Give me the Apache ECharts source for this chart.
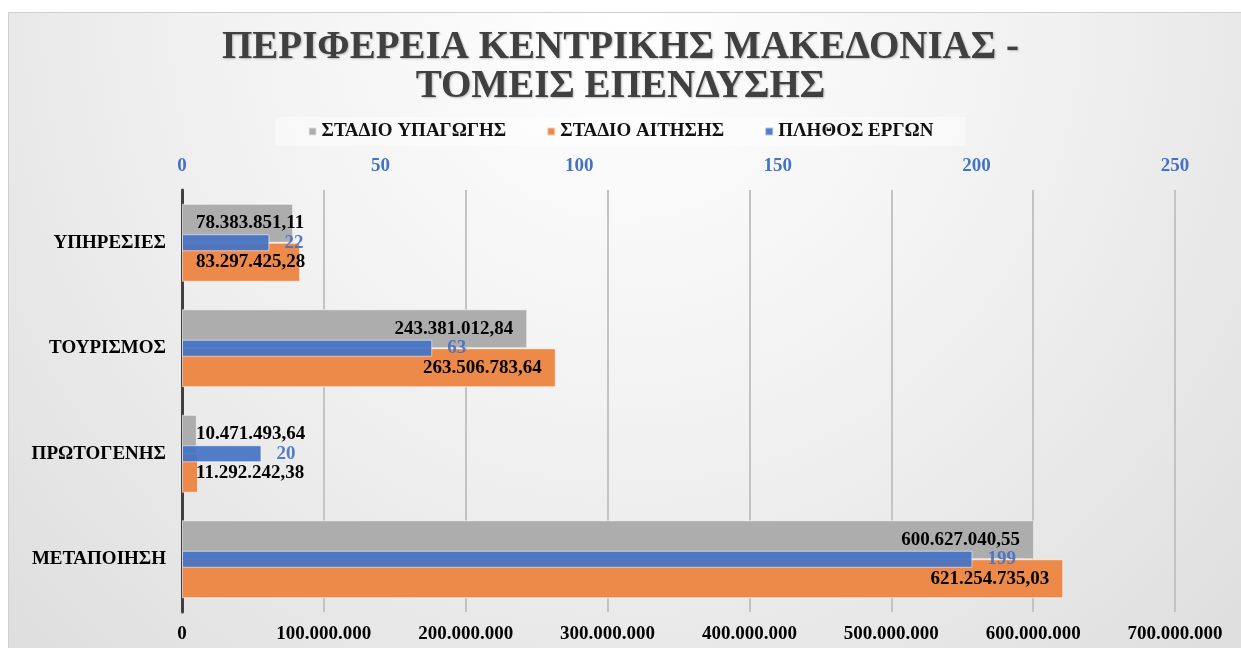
<!DOCTYPE html>
<html>
<head>
<meta charset="utf-8">
<script src="https://cdn.jsdelivr.net/npm/echarts@6/dist/echarts.min.js"></script>
<style>
  html, body { margin: 0; padding: 0; background: #fff; }
  #frame {
    position: absolute; left: 8px; top: 12px; width: 1233px; height: 636px;
    border-top: 1px solid #cfcfcf; border-left: 1px solid #cfcfcf;
    background: radial-gradient(ellipse at 50% 0%, #ffffff 0%, #f2f2f2 45%, #dedede 100%);
  }
  #main { position: absolute; left: 0; top: 0; width: 1241px; height: 648px; }
</style>
</head>
<body>
<div id="frame"></div>
<div id="main"></div>
<script>
const categories = ['ΜΕΤΑΠΟΙΗΣΗ', 'ΠΡΩΤΟΓΕΝΗΣ', 'ΤΟΥΡΙΣΜΟΣ', 'ΥΠΗΡΕΣΙΕΣ']
const stadioYpagogis = [600627040.55, 10471493.64, 243381012.84, 78383851.11]
const stadioAitisis = [621254735.03, 11292242.38, 263506783.64, 83297425.28]
const plithosErgon = [199, 20, 63, 22]

const serif = "'Liberation Serif', 'DejaVu Serif', serif"

// ελληνική μορφή αριθμών: 1.234.567,89
function fmt(v, dec) {
    const parts = v.toFixed(dec).split('.')
    const i = parts[0].replace(/\B(?=(\d{3})+(?!\d))/g, '.')
    return dec ? i + ',' + parts[1] : i
}

// μικρές μπάρες: η ετικέτα ξεκινά από την αρχή της μπάρας
function withLabels(arr) {
    return arr.map(v => ({
        value: v,
        label: { position: v < 1e8 ? 'insideLeft' : 'insideRight' }
    }))
}

const myChart = echarts.init(document.getElementById('main'))

const option = {
    backgroundColor: 'transparent',
    title: {
        text: 'ΠΕΡΙΦΕΡΕΙΑ ΚΕΝΤΡΙΚΗΣ ΜΑΚΕΔΟΝΙΑΣ -\nΤΟΜΕΙΣ ΕΠΕΝΔΥΣΗΣ',
        left: 'center',
        top: 23,
        textStyle: {
            fontFamily: serif,
            fontWeight: 'bold',
            fontSize: 39,
            lineHeight: 39,
            color: '#404040',
            textShadowColor: 'rgba(0,0,0,0.25)',
            textShadowBlur: 2,
            textShadowOffsetX: 1,
            textShadowOffsetY: 1
        }
    },
    legend: {
        data: ['ΣΤΑΔΙΟ ΥΠΑΓΩΓΗΣ', 'ΣΤΑΔΙΟ ΑΙΤΗΣΗΣ', 'ΠΛΗΘΟΣ ΕΡΓΩΝ'],
        left: 'center',
        top: 117,
        icon: 'rect',
        itemWidth: 8,
        itemHeight: 8,
        itemGap: 40,
        padding: [5, 32, 5, 32],
        backgroundColor: 'rgba(255,255,255,0.45)',
        textStyle: {
            fontFamily: serif,
            fontWeight: 'bold',
            fontSize: 19,
            color: '#111'
        }
    },
    grid: {
        left: 182,
        right: 66,
        top: 190,
        bottom: 36
    },
    xAxis: [
        {
            type: 'value',
            position: 'bottom',
            min: 0,
            max: 700000000,
            interval: 100000000,
            axisLine: { show: false },
            axisTick: { show: false },
            splitLine: { lineStyle: { color: '#c3c3c3', width: 2 } },
            axisLabel: {
                margin: 13,
                fontFamily: serif,
                fontWeight: 'bold',
                fontSize: 19,
                color: '#000',
                formatter: v => fmt(v, 0)
            }
        },
        {
            type: 'value',
            position: 'top',
            min: 0,
            max: 250,
            interval: 50,
            axisLine: { show: false },
            axisTick: { show: false },
            splitLine: { show: false },
            axisLabel: {
                margin: 14,
                fontFamily: serif,
                fontWeight: 'bold',
                fontSize: 19,
                color: '#4472C4'
            }
        }
    ],
    yAxis: [
        {
            type: 'category',
            data: categories,
            axisLine: { lineStyle: { color: '#404040', width: 3 } },
            axisTick: { show: false },
            axisLabel: {
                margin: 16,
                fontFamily: serif,
                fontWeight: 'bold',
                fontSize: 19,
                color: '#000'
            }
        },
        {
            type: 'category',
            data: categories,
            show: false
        }
    ],
    series: [
        {
            name: 'ΣΤΑΔΙΟ ΥΠΑΓΩΓΗΣ',
            type: 'bar',
            xAxisIndex: 0,
            yAxisIndex: 0,
            barWidth: 39,
            barGap: '0%',
            data: withLabels(stadioYpagogis),
            itemStyle: { color: '#ADADAD', borderColor: 'rgba(255,255,255,0.6)', borderWidth: 1 },
            label: {
                show: true,
                distance: 14,
                fontFamily: serif,
                fontWeight: 'bold',
                fontSize: 19,
                color: '#000',
                formatter: p => fmt(p.value, 2)
            }
        },
        {
            name: 'ΣΤΑΔΙΟ ΑΙΤΗΣΗΣ',
            type: 'bar',
            xAxisIndex: 0,
            yAxisIndex: 0,
            barWidth: 39,
            barGap: '0%',
            data: withLabels(stadioAitisis),
            itemStyle: { color: '#ED8A4A', borderColor: 'rgba(255,255,255,0.6)', borderWidth: 1 },
            label: {
                show: true,
                distance: 14,
                fontFamily: serif,
                fontWeight: 'bold',
                fontSize: 19,
                color: '#000',
                formatter: p => fmt(p.value, 2)
            }
        },
        {
            name: 'ΠΛΗΘΟΣ ΕΡΓΩΝ',
            type: 'bar',
            xAxisIndex: 1,
            yAxisIndex: 1,
            barWidth: 17,
            z: 5,
            data: plithosErgon,
            itemStyle: { color: '#4472C4', opacity: 0.92, borderColor: 'rgba(255,255,255,0.6)', borderWidth: 1 },
            label: {
                show: true,
                position: 'right',
                distance: 15,
                fontFamily: serif,
                fontWeight: 'bold',
                fontSize: 19,
                color: '#4472C4'
            }
        }
    ]
}

myChart.setOption(option)
</script>
</body>
</html>
